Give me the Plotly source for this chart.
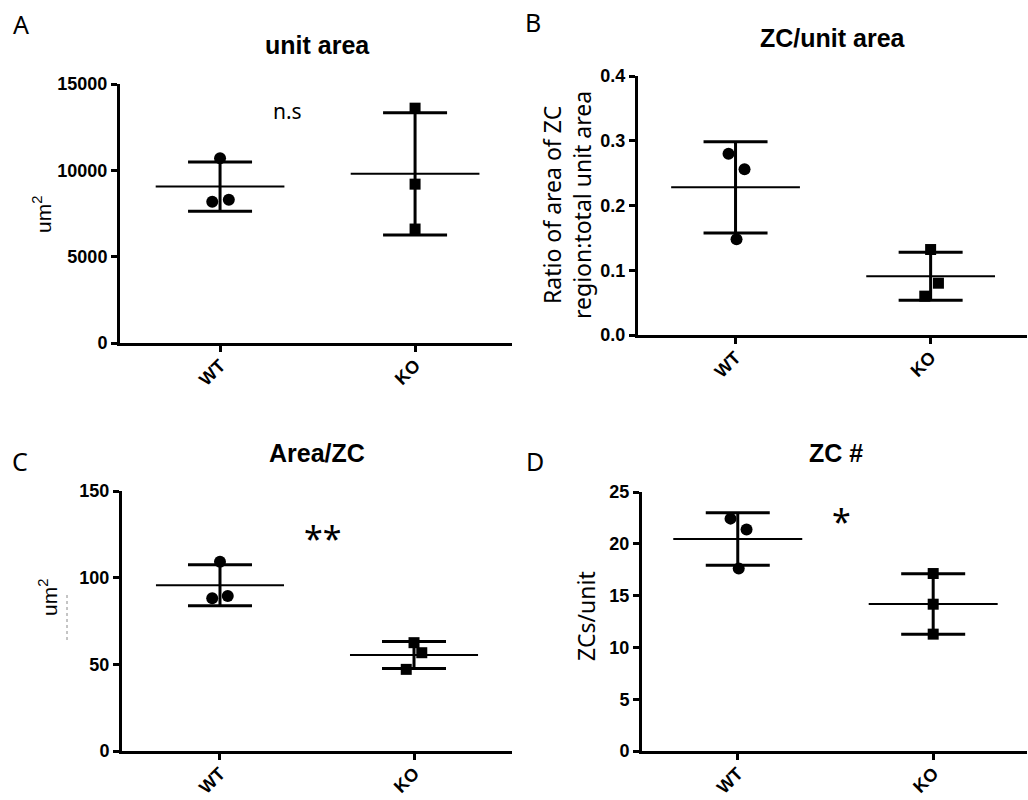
import numpy as np
import plotly.graph_objects as go

groups = ["WT", "KO"]

# Panel A: unit area (um^2)
a_wt = [10700, 8180, 8290]
a_ko = [13600, 9200, 6600]
a_wt_jit = [0.0, -0.04, 0.045]
a_ko_jit = [0.0, 0.0, 0.0]

# Panel B: ZC / unit area ratio
b_wt = [0.280, 0.256, 0.148]
b_ko = [0.132, 0.080, 0.060]
b_wt_jit = [-0.036, 0.046, 0.005]
b_ko_jit = [0.0, 0.04, -0.03]

# Panel C: Area / ZC (um^2)
c_wt = [109.2, 88.1, 89.4]
c_ko = [62.5, 56.7, 47.1]
c_wt_jit = [0.0, -0.04, 0.04]
c_ko_jit = [0.0, 0.04, -0.04]

# Panel D: ZC #
d_wt = [22.43, 21.37, 17.61]
d_ko = [17.13, 14.17, 11.28]
d_wt_jit = [-0.037, 0.045, 0.005]
d_ko_jit = [0.0, 0.0, 0.0]

panels = [
    dict(wt=a_wt, ko=a_ko, wj=a_wt_jit, kj=a_ko_jit, ymax=15000, dtick=5000, fmt="d",
         xdom=(120, 512), ydom=(84, 343), xr=(-0.513, 1.497)),
    dict(wt=b_wt, ko=b_ko, wj=b_wt_jit, kj=b_ko_jit, ymax=0.4, dtick=0.1, fmt=".1f",
         xdom=(638, 1027), ydom=(76, 335), xr=(-0.50, 1.494)),
    dict(wt=c_wt, ko=c_ko, wj=c_wt_jit, kj=c_ko_jit, ymax=150, dtick=50, fmt="d",
         xdom=(122, 512), ydom=(491, 751), xr=(-0.505, 1.505)),
    dict(wt=d_wt, ko=d_ko, wj=d_wt_jit, kj=d_ko_jit, ymax=25, dtick=5, fmt="d",
         xdom=(642, 1027), ydom=(492, 751), xr=(-0.49, 1.48)),
]

W, H = 1028, 800


def fx(x):
    return x / W


def fy(y):
    return 1 - y / H


fig = go.Figure()
tickfont = dict(family="Liberation Sans, Arial", size=18, color="black", weight="bold")

for i, p in enumerate(panels):
    n = "" if i == 0 else str(i + 1)
    xa, ya = "x" + n, "y" + n
    for gi, (vals, jit, sym, msize) in enumerate(
            [(p["wt"], p["wj"], "circle", 12), (p["ko"], p["kj"], "square", 11)]):
        v = np.array(vals, dtype=float)
        m = v.mean()
        sd = v.std(ddof=1)
        # mean line + SD error bar
        fig.add_trace(go.Scatter(
            x=[gi], y=[m], mode="markers", xaxis=xa, yaxis=ya, showlegend=False,
            marker=dict(size=1, color="rgba(0,0,0,0)"),
            error_y=dict(type="data", array=[sd], visible=True, width=32,
                         thickness=3, color="black"),
            error_x=dict(type="constant", value=0.33, visible=True, width=0,
                         thickness=2, color="black"),
            hoverinfo="skip"))
        # individual points
        fig.add_trace(go.Scatter(
            x=[gi + j for j in jit], y=vals, mode="markers", xaxis=xa, yaxis=ya,
            showlegend=False, marker=dict(symbol=sym, size=msize, color="black")))
    x0, x1 = p["xdom"]
    yt, yb = p["ydom"]
    fig.layout["xaxis" + n] = dict(
        domain=[max(fx(x0), 0), min(fx(x1), 1)], anchor=ya, range=list(p["xr"]),
        tickvals=[0, 1], ticktext=groups, tickangle=-45, tickfont=tickfont,
        showline=True, linecolor="black", linewidth=3, ticks="outside",
        ticklen=6, tickwidth=3, tickcolor="black", showgrid=False, zeroline=False,
        ticklabelstandoff=-4, automargin=False, fixedrange=True)
    fig.layout["yaxis" + n] = dict(
        domain=[fy(yb), fy(yt)], anchor=xa, range=[0, p["ymax"]],
        dtick=p["dtick"], tick0=0, tickformat=p["fmt"], tickfont=tickfont,
        showline=True, linecolor="black", linewidth=3, ticks="outside",
        ticklen=6, tickwidth=3, tickcolor="black", showgrid=False, zeroline=False,
        automargin=False, fixedrange=True)


def px_ann(text, x, y, size, family="Noto Sans", bold=False, angle=0, xanchor="center",
           yanchor="middle"):
    f = dict(family=family, size=size, color="black")
    if bold:
        f["weight"] = "bold"
    fig.add_annotation(text=text, x=fx(x), y=fy(y), xref="paper", yref="paper",
                       showarrow=False, font=f, textangle=angle,
                       xanchor=xanchor, yanchor=yanchor)


# panel letters
for t, x, y in [("A", 21, 24), ("B", 533, 22), ("C", 20, 461), ("D", 535, 461)]:
    px_ann(t, x, y, 25)

# titles
title_font = "Liberation Sans, Arial"
px_ann("unit area", 317, 45, 25, family=title_font, bold=True)
px_ann("ZC/unit area", 833, 38, 25, family=title_font, bold=True)
px_ann("Area/ZC", 317, 453, 25, family=title_font, bold=True)
px_ann("ZC #", 836, 453, 25, family=title_font, bold=True)

# y axis titles
px_ann("um<sup>2</sup>", 42, 215, 21, family=title_font, angle=-90)
px_ann("Ratio of area of ZC<br>region:total unit area", 567, 205, 23, angle=-90)
px_ann("um<sup>2</sup>", 48, 598, 21, family=title_font, angle=-90)
px_ann("ZCs/unit", 586, 616, 23, angle=-90)

# significance labels
px_ann("n.s", 287, 111, 21)
px_ann("**", 322, 538, 34)
px_ann("*", 841, 521, 34)

# small dotted artifact under C's y label
fig.add_shape(type="line", xref="paper", yref="paper",
              x0=fx(67), x1=fx(67), y0=fy(595), y1=fy(643),
              line=dict(color="rgba(90,90,90,0.7)", width=1, dash="dot"))

fig.update_layout(width=W, height=H, margin=dict(l=0, r=0, t=0, b=0),
                  paper_bgcolor="white", plot_bgcolor="white")

# place the figure at the page's top-left corner (no default body margin)
fig.write_html("out.html", config={"displayModeBar": False},
               post_script="document.body.style.margin='0';"
                           "document.body.style.overflow='hidden';")
